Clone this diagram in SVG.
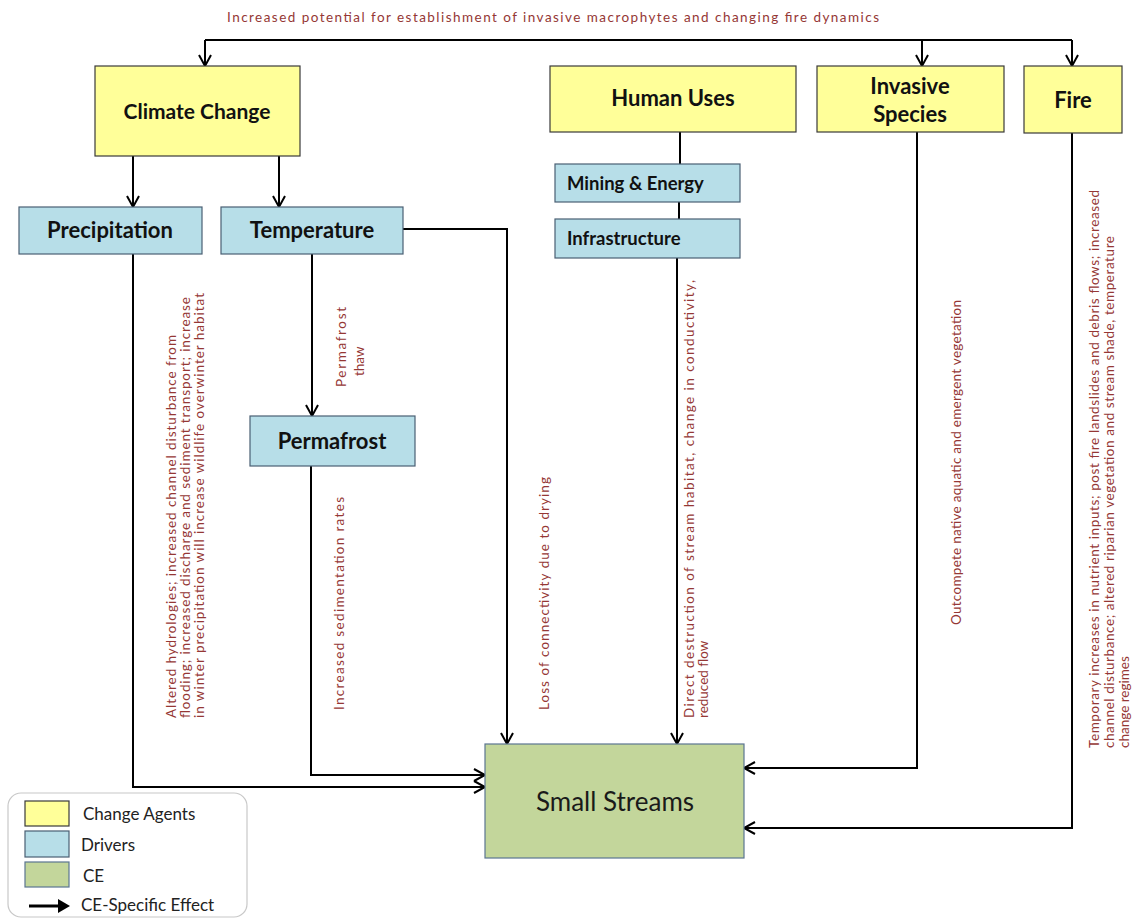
<svg xmlns="http://www.w3.org/2000/svg" width="1139" height="918" viewBox="0 0 1139 918">
<style>
.bg{fill:#ffffff}
.agent{fill:#FFFF99;stroke:#3a3a3a;stroke-width:1.2}
.driver{fill:#B7DEE8;stroke:#4a5f73;stroke-width:1.2}
.ce{fill:#C3D69B;stroke:#5b7591;stroke-width:1.2}
.lbl{font-family:Lato,"Liberation Sans",sans-serif;font-weight:bold;fill:#111;text-anchor:middle}
.lbl-l{font-family:Lato,"Liberation Sans",sans-serif;font-weight:bold;fill:#111;font-size:18.5px}
.eff{font-family:Lato,"Liberation Sans",sans-serif;font-size:13.5px;fill:#953735}
.conn{fill:none;stroke:#000;stroke-width:2}
.leg{font-family:Lato,"Liberation Sans",sans-serif;font-size:17px;fill:#222}
</style>
<defs>
<marker id="arr" markerUnits="userSpaceOnUse" markerWidth="16" markerHeight="16" refX="12" refY="7" orient="auto">
<path d="M1,1 L12,7 L1,13" fill="none" stroke="#000" stroke-width="2"/>
</marker>
</defs>
<rect class="bg" x="0" y="0" width="1139" height="918"/>

<text class="eff" x="553" y="22" text-anchor="middle" textLength="652">Increased potential for establishment of invasive macrophytes and changing fire dynamics</text>

<g id="connectors">
<path class="conn" d="M205,40 H1072"/>
<path class="conn" d="M205,40 V66" marker-end="url(#arr)"/>
<path class="conn" d="M922,40 V66" marker-end="url(#arr)"/>
<path class="conn" d="M1072,40 V66" marker-end="url(#arr)"/>
<path class="conn" d="M133,156 V207" marker-end="url(#arr)"/>
<path class="conn" d="M279,156 V207" marker-end="url(#arr)"/>
<path class="conn" d="M312,254 V416" marker-end="url(#arr)"/>
<path class="conn" d="M403,229 H507 V744" marker-end="url(#arr)"/>
<path class="conn" d="M311,466 V775 H485" marker-end="url(#arr)"/>
<path class="conn" d="M133,254 V787 H485" marker-end="url(#arr)"/>
<path class="conn" d="M680,132 V164"/>
<path class="conn" d="M679,202 V219"/>
<path class="conn" d="M677,258 V744" marker-end="url(#arr)"/>
<path class="conn" d="M917,132 V768 H744" marker-end="url(#arr)"/>
<path class="conn" d="M1072,133 V828 H744" marker-end="url(#arr)"/>
</g>

<g id="climate-change">
<rect class="agent" x="95" y="66" width="205" height="90"/>
<text class="lbl" x="197" y="119" font-size="21">Climate Change</text>
</g>
<g id="human-uses">
<rect class="agent" x="550" y="66" width="246" height="66"/>
<text class="lbl" x="673" y="106" font-size="22">Human Uses</text>
</g>
<g id="invasive-species">
<rect class="agent" x="817" y="66" width="187" height="66"/>
<text class="lbl" x="910" y="94" font-size="22">Invasive</text>
<text class="lbl" x="910" y="122" font-size="22">Species</text>
</g>
<g id="fire">
<rect class="agent" x="1024" y="66" width="98" height="67"/>
<text class="lbl" x="1073" y="108" font-size="22">Fire</text>
</g>
<g id="precipitation">
<rect class="driver" x="19" y="207" width="183" height="47"/>
<text class="lbl" x="110" y="238" font-size="22">Precipitation</text>
</g>
<g id="temperature">
<rect class="driver" x="221" y="207" width="182" height="47"/>
<text class="lbl" x="312" y="238" font-size="22">Temperature</text>
</g>
<g id="permafrost">
<rect class="driver" x="250" y="416" width="165" height="50"/>
<text class="lbl" x="332" y="449" font-size="22">Permafrost</text>
</g>
<g id="mining-energy">
<rect class="driver" x="555" y="164" width="185" height="38"/>
<text class="lbl-l" x="567" y="190">Mining &amp; Energy</text>
</g>
<g id="infrastructure">
<rect class="driver" x="555" y="219" width="185" height="39"/>
<text class="lbl-l" x="567" y="245">Infrastructure</text>
</g>
<g id="small-streams">
<rect class="ce" x="485" y="744" width="259" height="114"/>
<text x="615" y="811" font-family="Lato,'Liberation Sans',sans-serif" font-size="26" fill="#1a1a1a" text-anchor="middle">Small Streams</text>
</g>

<g id="effect-labels">
<text class="eff" transform="translate(176,718) rotate(-90)" textLength="383">Altered hydrologies; increased channel disturbance from</text>
<text class="eff" transform="translate(190,718) rotate(-90)" textLength="421">flooding; increased discharge and sediment transport; increase</text>
<text class="eff" transform="translate(204,718) rotate(-90)" textLength="425">in winter precipitation will increase wildlife overwinter habitat</text>
<text class="eff" transform="translate(346,387) rotate(-90)" textLength="80">Permafrost</text>
<text class="eff" transform="translate(364,376) rotate(-90)">thaw</text>
<text class="eff" transform="translate(344,710) rotate(-90)" textLength="213">Increased sedimentation rates</text>
<text class="eff" transform="translate(549,710) rotate(-90)" textLength="233">Loss of connectivity due to drying</text>
<text class="eff" transform="translate(694,718) rotate(-90)" textLength="438">Direct destruction of stream habitat, change in conductivity,</text>
<text class="eff" transform="translate(708,718) rotate(-90)">reduced flow</text>
<text class="eff" transform="translate(961,625) rotate(-90)" textLength="325">Outcompete  native aquatic and emergent vegetation</text>
<text class="eff" transform="translate(1099,748) rotate(-90)" textLength="558">Temporary increases in nutrient inputs; post fire landslides and debris flows; increased</text>
<text class="eff" transform="translate(1114,748) rotate(-90)" textLength="512">channel disturbance; altered riparian vegetation and stream shade, temperature</text>
<text class="eff" transform="translate(1129,748) rotate(-90)">change regimes</text>
</g>

<g id="legend">
<rect x="8" y="793" width="239" height="124" rx="13" fill="#fff" stroke="#c8c8c8" stroke-width="1.2"/>
<rect class="agent" x="25" y="801" width="44" height="25"/>
<rect class="driver" x="25" y="831" width="44" height="26"/>
<rect class="ce" x="25" y="862" width="44" height="25"/>
<path d="M29,906 H60" stroke="#000" stroke-width="3"/>
<path d="M58,899 L70,906 L58,913 Z" fill="#000"/>
<text class="leg" x="83" y="820">Change Agents</text>
<text class="leg" x="81" y="851">Drivers</text>
<text class="leg" x="83" y="882">CE</text>
<text class="leg" x="81" y="911">CE-Specific Effect</text>
</g>
</svg>
